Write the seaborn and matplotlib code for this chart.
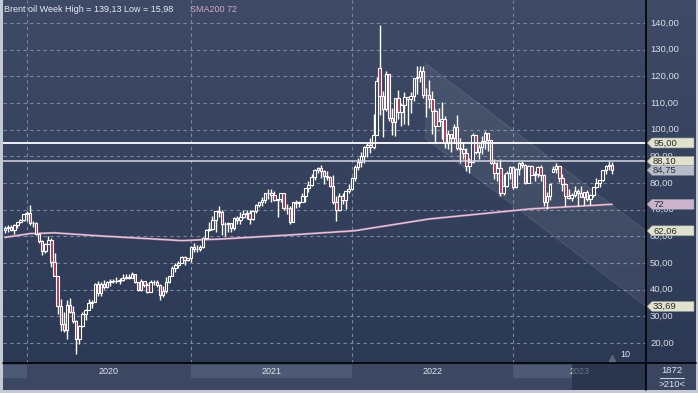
import matplotlib
matplotlib.use("Agg")
import numpy as np
import pandas as pd
import matplotlib.pyplot as plt
import seaborn as sns
from matplotlib.patches import Polygon, Rectangle
from matplotlib.transforms import blended_transform_factory
from matplotlib.colors import LinearSegmentedColormap

# ---------------- data (weekly Brent) ----------------
close_2019 = [63.3, 63.4, 62.4, 64.4, 65.2, 66.1, 68.2]
high_2019 = [63.7, 64.2, 64.4, 64.6, 65.5, 66.4, 68.2]
low_2019 = [61.2, 61.6, 61.9, 60.8, 63.3, 64.9, 65.8]

close_2020 = [68.6, 65.0, 64.9, 60.7, 58.2, 54.5, 57.3, 58.5, 50.5, 45.3, 33.9, 27.0, 24.9,
              34.1, 31.5, 28.1, 21.4, 26.4, 31.0, 32.5, 35.1, 35.3, 42.3, 38.7, 42.2, 41.0,
              42.8, 43.2, 43.1, 43.3, 43.5, 44.4, 44.8, 44.4, 45.8, 42.7, 39.8, 43.2, 41.9,
              39.3, 42.9, 42.9, 41.8, 37.9, 39.5, 42.8, 45.0, 48.2, 49.3, 50.0, 52.3, 51.3, 51.8]
high_2020 = [69.5, 71.75, 65.7, 65.5, 61.4, 58.6, 57.6, 60.3, 59.5, 53.9, 45.3, 36.4, 31.5,
             36.3, 36.8, 33.9, 28.6, 26.9, 31.5, 32.8, 36.6, 36.3, 42.4, 43.4, 42.7, 43.8,
             43.3, 43.9, 44.1, 44.6, 44.4, 46.0, 46.0, 45.9, 46.5, 46.0, 42.9, 43.9, 43.0,
             42.6, 43.6, 43.6, 43.7, 42.2, 41.5, 44.6, 45.2, 48.8, 49.9, 50.8, 52.5, 52.5, 52.0]
low_2020 = [65.6, 64.3, 63.6, 60.5, 57.5, 53.1, 53.7, 57.2, 48.4, 45.0, 31.0, 24.5, 24.0,
            21.65, 31.3, 27.6, 15.98, 19.6, 25.9, 28.7, 32.2, 33.2, 37.1, 37.5, 37.8, 40.2,
            40.5, 41.3, 42.4, 42.5, 42.0, 43.4, 44.0, 43.9, 44.6, 42.4, 39.4, 39.6, 40.9,
            38.9, 39.0, 41.6, 41.0, 36.2, 37.4, 38.9, 42.6, 45.2, 46.8, 48.0, 49.9, 49.3, 50.6]

close_2021 = [56.0, 55.1, 55.4, 55.9, 59.3, 62.4, 62.9, 66.1, 69.4, 69.2, 64.5, 64.6, 64.9,
              63.0, 66.8, 66.1, 67.3, 68.3, 68.7, 66.4, 69.6, 71.9, 72.7, 73.5, 76.2, 76.2,
              75.6, 73.6, 74.1, 76.3, 70.7, 70.6, 65.2, 72.7, 72.6, 72.9, 75.3, 78.1, 79.3,
              82.4, 84.9, 85.5, 84.4, 82.7, 82.2, 78.9, 72.7, 69.9, 75.2, 73.5, 76.9, 77.8]
high_2021 = [56.3, 57.4, 56.6, 56.9, 59.6, 62.8, 65.5, 67.7, 69.6, 71.4, 70.0, 65.2, 65.5,
             64.9, 67.4, 67.5, 69.0, 70.0, 69.8, 69.7, 70.0, 72.3, 73.0, 74.9, 76.4, 77.8,
             77.8, 77.0, 74.0, 76.4, 75.8, 72.1, 71.2, 72.9, 73.5, 73.3, 76.1, 78.3, 80.8,
             83.5, 85.1, 86.1, 86.7, 85.0, 84.6, 82.7, 82.9, 75.3, 76.1, 76.2, 76.9, 79.7]
low_2021 = [50.4, 54.3, 54.3, 54.6, 55.6, 59.0, 61.9, 62.3, 61.8, 67.2, 60.4, 60.3, 61.5,
            61.5, 62.5, 64.6, 64.6, 66.9, 66.4, 64.6, 66.1, 68.8, 71.0, 71.4, 72.6, 73.9,
            73.0, 73.2, 67.4, 72.9, 69.7, 68.4, 64.6, 65.3, 70.6, 71.0, 72.8, 73.0, 76.7,
            78.9, 81.1, 83.6, 82.0, 79.6, 81.1, 78.4, 72.1, 65.7, 69.6, 72.0, 70.1, 76.2]

close_2022 = [81.8, 86.1, 87.9, 90.0, 93.3, 94.4, 93.5, 97.9, 118.1, 112.7, 107.9, 120.7, 104.4,
              102.8, 111.7, 106.7, 109.3, 112.4, 111.6, 112.6, 119.4, 119.7, 122.0, 113.1, 113.1,
              111.6, 107.0, 101.2, 103.2, 104.0, 94.9, 98.2, 96.7, 101.0, 93.0, 92.8, 91.4, 86.2,
              88.0, 97.9, 91.6, 93.5, 95.8, 98.6, 96.0, 87.6, 83.6, 85.6, 76.1, 79.0, 83.9, 85.9]
high_2022 = [82.4, 86.7, 89.5, 91.7, 93.7, 95.0, 97.0, 105.8, 119.8, 139.13, 114.4, 122.1, 120.9,
             108.2, 112.0, 114.8, 110.1, 114.0, 112.0, 114.0, 119.5, 124.0, 124.0, 124.0, 115.5,
             118.6, 114.5, 107.9, 108.0, 110.5, 105.0, 100.0, 98.5, 102.0, 105.6, 97.0, 95.5, 93.0,
             89.4, 98.75, 98.0, 94.7, 97.5, 99.6, 98.8, 96.0, 89.0, 88.0, 89.0, 83.3, 84.3, 86.2]
low_2022 = [77.3, 80.9, 84.9, 86.0, 87.3, 89.6, 91.3, 92.9, 97.8, 105.6, 97.4, 107.0, 103.3,
            98.0, 97.6, 104.1, 101.3, 102.0, 101.7, 106.1, 110.9, 113.2, 118.0, 112.0, 104.6,
            108.0, 98.5, 95.0, 102.6, 96.5, 93.2, 92.8, 91.5, 95.0, 92.4, 87.3, 89.0, 84.6,
            83.7, 87.5, 91.0, 89.0, 91.0, 92.8, 91.9, 87.2, 81.5, 80.6, 75.1, 75.6, 78.5, 81.5]

close_2023 = [78.6, 85.3, 87.6, 86.7, 79.9, 86.4, 83.0, 83.2, 85.8, 82.8, 73.0, 75.0, 79.8,
              85.1, 86.3, 81.7, 79.5, 75.3, 74.2, 75.6, 77.0, 76.1, 74.8, 76.6, 73.9, 75.4,
              78.5, 79.9, 81.1, 85.0, 86.2, 86.8, 84.75]
high_2023 = [86.5, 85.5, 87.9, 88.1, 87.0, 86.9, 86.9, 84.4, 86.5, 86.75, 83.2, 76.7, 80.1,
             86.4, 87.5, 86.3, 83.3, 79.8, 77.9, 76.4, 78.9, 77.9, 78.7, 76.8, 77.5, 76.0,
             78.5, 81.75, 81.2, 85.0, 86.6, 88.1, 87.7]
low_2023 = [77.6, 78.0, 82.9, 85.6, 79.7, 79.9, 82.8, 80.6, 82.2, 80.7, 71.4, 70.1, 73.8,
            84.0, 83.9, 80.4, 77.1, 71.3, 73.9, 73.3, 74.6, 71.4, 74.8, 71.6, 73.2, 71.9,
            74.6, 78.0, 78.6, 80.8, 83.3, 84.7, 83.3]

first_open = 62.5
gap_open_week = [121, 177]          # weeks whose open gapped away from the prior close
gap_open_value = [123.2, 84.0]

# SMA200 (week index, value)
sma_week = [0, 8, 16, 30, 45, 57, 70, 92, 113, 125, 137, 150, 170, 196]
sma_value = [59.6, 61.0, 61.3, 60.2, 59.2, 58.4, 59.0, 60.5, 62.1, 64.3, 66.5, 68.0, 70.3, 72.0]

year_labels = ["2020", "2021", "2022", "2023"]
year_start_week = [7, 60, 112, 164]

price_ticks = [20, 30, 40, 50, 60, 70, 80, 90, 100, 110, 120, 130, 140]
level_95 = 95.00
level_high = 88.10

channel_week = [135.6, 207.0]
channel_upper = [125.0, 62.06]
channel_lower = [96.9, 33.69]

tag_values = [95.00, 88.10, 84.75, 72.0, 62.06, 33.69]
tag_texts = ["95,00", "88,10", "84,75", "72", "62,06", "33,69"]
tag_colors = ["#e0e2c9", "#e0e2c9", "#b9bdcb", "#cbb4cb", "#e0e2c9", "#e0e2c9"]

title_text = "Brent oil Week High = 139,13 Low = 15,98"
sma_text = "SMA200 72"
bars_count = "1872"
bars_range = ">210<"
marker_label = "10"

# ---------------- build frame ----------------
closes = close_2019 + close_2020 + close_2021 + close_2022 + close_2023
highs = high_2019 + high_2020 + high_2021 + high_2022 + high_2023
lows = low_2019 + low_2020 + low_2021 + low_2022 + low_2023
n = len(closes)
opens = [first_open] + closes[:-1]
for w, v in zip(gap_open_week, gap_open_value):
    opens[w] = v
df = pd.DataFrame({"week": np.arange(n), "open": opens, "high": highs,
                   "low": lows, "close": closes})
df["high"] = df[["high", "open", "close"]].max(axis=1)
df["low"] = df[["low", "open", "close"]].min(axis=1)

# ---------------- figure ----------------
sns.set_theme(style="dark")
plt.rcParams["font.family"] = ["Liberation Sans", "DejaVu Sans"]

W, H = 698, 393
fig = plt.figure(figsize=(W / 100, H / 100), dpi=100)
fig.patch.set_facecolor("#c3cad6")


def box(x0, y0, x1, y1):
    return [x0 / W, 1 - y1 / H, (x1 - x0) / W, (y1 - y0) / H]


bg_cmap = LinearSegmentedColormap.from_list("bg", ["#3f4b66", "#2c3954"])
grad = np.linspace(0, 1, 256).reshape(-1, 1)

ax = fig.add_axes(box(3, 0, 646, 363))
ax.imshow(grad, extent=[0, 1, 0, 1], transform=ax.transAxes, cmap=bg_cmap,
          aspect="auto", zorder=0)
XL = (-0.65, 207.0)
YL = (12.5, 148.6)

# grid
ax.hlines(price_ticks, XL[0], XL[1], colors="#7a87a0", lw=0.8,
          linestyles=(0, (3, 3)), zorder=1)
ax.vlines(year_start_week, YL[0], YL[1], colors="#7a87a0", lw=0.8,
          linestyles=(0, (3, 3)), zorder=1)

# channel
chan = Polygon([(channel_week[0], channel_upper[0]), (channel_week[1], channel_upper[1]),
                (channel_week[1], channel_lower[1]), (channel_week[0], channel_lower[0])],
               closed=True, facecolor="white", alpha=0.065, edgecolor="none", zorder=1.5)
ax.add_patch(chan)
ax.plot(channel_week, channel_upper, color="white", alpha=0.08, lw=1, zorder=1.6)
ax.plot(channel_week, channel_lower, color="white", alpha=0.08, lw=1, zorder=1.6)

# SMA200
sns.lineplot(x=sma_week, y=sma_value, ax=ax, color="#c48daf", lw=1.5, zorder=2,
             legend=False)
sns.lineplot(x=sma_week, y=sma_value, ax=ax, color="#f3dfe9", lw=0.5, zorder=2.1,
             legend=False)

# candles
up = df["close"] >= df["open"]
ax.vlines(df["week"], df["low"], df["high"], colors="white", lw=1.0, zorder=3)
ax.bar(df["week"][up], (df["close"] - df["open"])[up], bottom=df["open"][up],
       width=0.8, facecolor="#34405b", edgecolor="white", lw=0.8, zorder=4)
ax.bar(df["week"][~up], (df["open"] - df["close"])[~up], bottom=df["close"][~up],
       width=0.8, facecolor="#b23356", edgecolor="white", lw=0.8, zorder=4)

# horizontal levels
ax.axhline(level_95, color="white", lw=1.3, zorder=6)
ax.axhline(level_high, color="#d5d9e2", lw=1.1, zorder=6)

# marker at last bar
bx = blended_transform_factory(ax.transData, ax.transAxes)
ax.plot([df["week"].iloc[-1]], [0.012], marker="^", ms=6, color="#5d677c",
        transform=bx, clip_on=False, zorder=7)
ax.text(df["week"].iloc[-1] + 2.6, 0.012, marker_label, color="#e0e4ec", fontsize=6.5,
        transform=bx, va="bottom", ha="left", zorder=7)

ax.set_xlim(*XL)
ax.set_ylim(*YL)
ax.set_axis_off()

# right price panel
axr = fig.add_axes(box(646, 0, 696, 363))
axr.imshow(grad, extent=[0, 1, 0, 1], transform=axr.transAxes, cmap=bg_cmap,
           aspect="auto", zorder=0)
axr.set_xlim(0, 1)
axr.set_ylim(*YL)
axr.set_axis_off()
brt = blended_transform_factory(axr.transAxes, axr.transData)
for p in price_ticks:
    axr.text(0.08, p, f"{p},00", transform=brt, color="#d9dde6", fontsize=6.8,
             va="center", ha="left", zorder=5)

# bottom strip (years)
axs = fig.add_axes(box(3, 363, 646, 390))
axs.set_facecolor("#3c4862")
axs.set_xlim(*XL)
axs.set_ylim(0, 1)
band_edges = [XL[0]] + year_start_week + [183.0]
for i in range(0, len(band_edges) - 1, 2):
    axs.axvspan(band_edges[i], band_edges[i + 1], ymin=0.44, ymax=0.93,
                color="#4d5a76", lw=0)
year_ends = year_start_week[1:] + [XL[1]]
for lab, s, e in zip(year_labels, year_start_week, year_ends):
    axs.text((s + e) / 2, 0.69, lab, color="#dfe3ea", fontsize=6.5,
             ha="center", va="center")
axs.add_patch(Rectangle((183.0, 0.0), XL[1] - 183.0, 0.96, facecolor="#1f2a40",
                        alpha=0.6, edgecolor="none", zorder=5))
axs.set_xticks([])
axs.set_yticks([])
for s in axs.spines.values():
    s.set_visible(False)

# bottom-right info panel
axb = fig.add_axes(box(646, 363, 696, 390))
axb.set_facecolor("#3a4660")
axb.set_xlim(0, 1)
axb.set_ylim(0, 1)
axb.text(0.52, 0.74, bars_count, color="#e0e4ec", fontsize=6.8, ha="center", va="center")
axb.plot([0.28, 0.76], [0.46, 0.46], color="#c9cfda", lw=0.8)
axb.text(0.52, 0.22, bars_range, color="#e0e4ec", fontsize=6.8, ha="center", va="center")
axb.set_xticks([])
axb.set_yticks([])
for s in axb.spines.values():
    s.set_visible(False)

# overlay in pixel space
ov = fig.add_axes([0, 0, 1, 1], zorder=10)
ov.set_xlim(0, W)
ov.set_ylim(H, 0)
ov.set_axis_off()
ov.patch.set_alpha(0)
ov.plot([646, 646], [0, 390], color="black", lw=1.2)
ov.plot([3, 696], [363, 363], color="black", lw=1.2)

ov.text(4, 9, title_text, color="#e8eaf0", fontsize=6.5, va="center", ha="left")
ov.text(190, 9, sma_text, color="#d6a7c6", fontsize=6.5, va="center", ha="left")

# price tags positioned from the price scale
for val, txt, col in zip(tag_values, tag_texts, tag_colors):
    ydisp = ax.transData.transform((0, val))[1]
    ypx = H - ydisp
    tag = Polygon([(647, ypx), (652, ypx - 5), (694, ypx - 5), (694, ypx + 5), (652, ypx + 5)],
                  closed=True, facecolor=col, edgecolor="#8a8f9a", lw=0.4)
    ov.add_patch(tag)
    ov.text(653, ypx + 0.3, txt, color="#2a2a2e", fontsize=6.8, va="center", ha="left")

fig.savefig("out.png", dpi=100, facecolor=fig.get_facecolor())
